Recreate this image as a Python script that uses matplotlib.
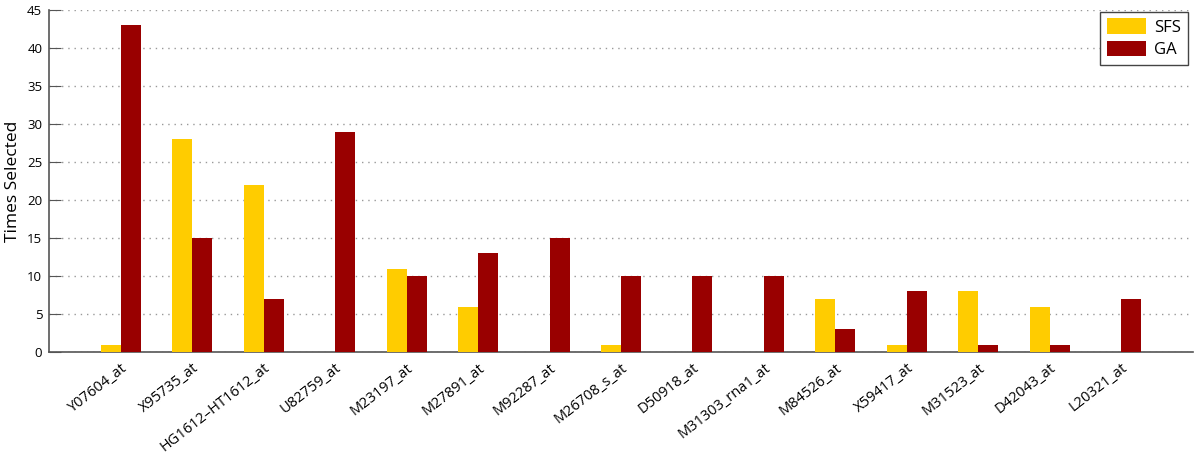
import numpy as np
import matplotlib
matplotlib.use("Agg")
import matplotlib.pyplot as plt

plt.rcParams["font.family"] = ["Open Sans", "DejaVu Sans"]

genes = ["Y07604_at", "X95735_at", "HG1612\u2013HT1612_at", "U82759_at", "M23197_at",
         "M27891_at", "M92287_at", "M26708_s_at", "D50918_at", "M31303_rna1_at",
         "M84526_at", "X59417_at", "M31523_at", "D42043_at", "L20321_at"]
sfs = [1, 28, 22, 0, 11, 6, 0, 1, 0, 0, 7, 1, 8, 6, 0]
ga = [43, 15, 7, 29, 10, 13, 15, 10, 10, 10, 3, 8, 1, 1, 7]

x = np.arange(1, len(genes) + 1)
w = 0.28

fig = plt.figure(figsize=(12, 4.55), dpi=100)
ax = fig.add_axes([0.041, 0.226, 0.953, 0.752])

ax.bar(x - w / 2, sfs, w, color="#FFCC00", label="SFS", zorder=3)
ax.bar(x + w / 2, ga, w, color="#990000", label="GA", zorder=3)

ax.set_xlim(0, 16)
ax.set_ylim(0, 45)
ax.set_yticks(range(0, 46, 5))
ax.set_xticks(x)
ax.set_xticklabels(genes, rotation=38, ha="right", rotation_mode="anchor", fontsize=10.5)
ax.tick_params(axis="y", direction="in", length=8.5, labelsize=9.5, color="#555555", pad=5)
ax.tick_params(axis="x", length=0, pad=6)
ax.yaxis.grid(True, linestyle=(0, (1, 3.5)), color="#999999", linewidth=1)
ax.set_axisbelow(True)

for s in ["top", "right"]:
    ax.spines[s].set_visible(False)
for s in ["left", "bottom"]:
    ax.spines[s].set_color("#555555")
    ax.spines[s].set_linewidth(1.2)

ax.set_ylabel("Times Selected", fontsize=12.5)

leg = ax.legend(loc="upper right", fontsize=12, fancybox=False, edgecolor="#444444",
                framealpha=1, handlelength=2.35, handleheight=1.05, borderpad=0.4,
                handletextpad=0.5, labelspacing=0.3, borderaxespad=0,
                bbox_to_anchor=(0.9956, 0.995))
leg.get_frame().set_linewidth(1)

fig.savefig("out.png", dpi=100)
